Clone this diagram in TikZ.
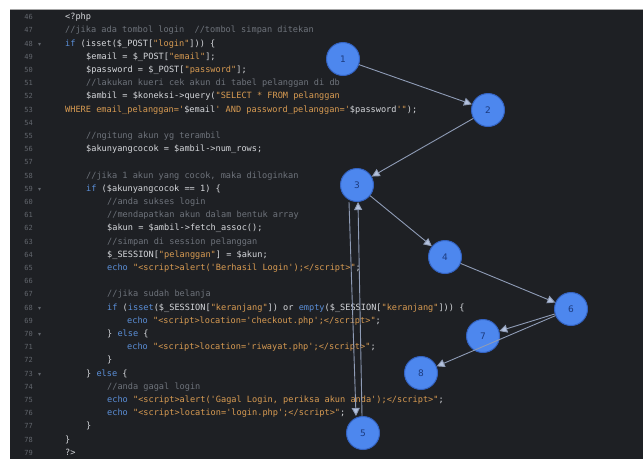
\documentclass[tikz,border=0pt]{standalone}
\usepackage{fontspec}
\setmonofont{DejaVu Sans Mono}
\newfontfamily\numfont{DejaVu Sans}
\usetikzlibrary{arrows.meta}
\definecolor{codebg}{HTML}{1E2024}
\definecolor{txt}{HTML}{D6D8DC}
\definecolor{cmt}{HTML}{6E737B}
\definecolor{strc}{HTML}{D89B52}
\definecolor{kwc}{HTML}{5B8FD8}
\definecolor{lnum}{HTML}{62666D}
\definecolor{circfill}{HTML}{4D87EE}
\definecolor{circdraw}{HTML}{3463C2}
\definecolor{circtxt}{HTML}{1C3B7E}
\definecolor{arrc}{HTML}{8F9CB6}
\definecolor{arrhead}{HTML}{B4C2DE}
\newcommand\ckw[1]{\textcolor{kwc}{#1}}
\newcommand\cstr[1]{\textcolor{strc}{#1}}
\newcommand\ccmt[1]{\textcolor{cmt}{#1}}
\tikzset{
  codeline/.style={anchor=mid west, inner sep=0pt, text=txt, font=\ttfamily\fontsize{8.6}{10}\selectfont},
  lnlabel/.style={anchor=mid east, inner sep=0pt, text=lnum, font=\ttfamily\fontsize{7}{8}\selectfont},
  foldmark/.style={anchor=mid west, inner sep=0pt, text=lnum, font=\numfont\fontsize{6}{7}\selectfont},
  stepcirc/.style={circle, minimum size=33pt, inner sep=0pt, fill=circfill, draw=circdraw, line width=1pt, text=circtxt, font=\numfont\fontsize{9}{10}\selectfont},
  flowarr/.style={draw=arrc, line width=0.9pt, -{Triangle[length=8pt,width=8pt,fill=arrhead]}}
}
\begin{document}
\begin{tikzpicture}[x=1pt,y=-1pt]
\useasboundingbox (0,0) rectangle (643,459);
\fill[white] (0,0) rectangle (643,459);
\fill[codebg] (10,9) rectangle (643,459);
\draw[gray!70, line width=1pt] (10,9.5) -- (643,9.5);
% line numbers
\foreach \n in {46,...,79} {
  \node[lnlabel] (n\n) at (33, {17.5+(\n-46)*13.2}) {\n};
}
\foreach \n in {48,59,68,70,73} {
  \node[foldmark] (f\n) at (38, {17.5+(\n-46)*13.2}) {▾};
}
% code
\node[codeline] (l46) at (65, {17.5+0*13.2}) {<?php};
\node[codeline] (l47) at (65, {17.5+1*13.2}) {\ccmt{//jika ada tombol login\ \ //tombol simpan ditekan}};
\node[codeline] (l48) at (65, {17.5+2*13.2}) {\ckw{if} (isset(\$\_POST[\cstr{"login"}])) \{};
\node[codeline] (l49) at (86, {17.5+3*13.2}) {\$email = \$\_POST[\cstr{"email"}];};
\node[codeline] (l50) at (86, {17.5+4*13.2}) {\$password = \$\_POST[\cstr{"password"}];};
\node[codeline] (l51) at (86, {17.5+5*13.2}) {\ccmt{//lakukan kueri cek akun di tabel pelanggan di db}};
\node[codeline] (l52) at (86, {17.5+6*13.2}) {\$ambil = \$koneksi->query(\cstr{"SELECT * FROM pelanggan}};
\node[codeline] (l53) at (65, {17.5+7*13.2}) {\cstr{WHERE email\_pelanggan='}\$email\cstr{' AND password\_pelanggan='}\$password\cstr{'"});};
\node[codeline] (l55) at (86, {17.5+9*13.2}) {\ccmt{//ngitung akun yg terambil}};
\node[codeline] (l56) at (86, {17.5+10*13.2}) {\$akunyangcocok = \$ambil->num\_rows;};
\node[codeline] (l58) at (86, {17.5+12*13.2}) {\ccmt{//jika 1 akun yang cocok, maka diloginkan}};
\node[codeline] (l59) at (86, {17.5+13*13.2}) {\ckw{if} (\$akunyangcocok == 1) \{};
\node[codeline] (l60) at (107, {17.5+14*13.2}) {\ccmt{//anda sukses login}};
\node[codeline] (l61) at (107, {17.5+15*13.2}) {\ccmt{//mendapatkan akun dalam bentuk array}};
\node[codeline] (l62) at (107, {17.5+16*13.2}) {\$akun = \$ambil->fetch\_assoc();};
\node[codeline] (l63) at (107, {17.5+17*13.2}) {\ccmt{//simpan di session pelanggan}};
\node[codeline] (l64) at (107, {17.5+18*13.2}) {\$\_SESSION[\cstr{"pelanggan"}] = \$akun;};
\node[codeline] (l65) at (107, {17.5+19*13.2}) {\ckw{echo} \cstr{"<script>alert('Berhasil Login');</script>"};};
\node[codeline] (l67) at (107, {17.5+21*13.2}) {\ccmt{//jika sudah belanja}};
\node[codeline] (l68) at (107, {17.5+22*13.2}) {\ckw{if} (\ckw{isset}(\$\_SESSION[\cstr{"keranjang"}]) or \ckw{empty}(\$\_SESSION[\cstr{"keranjang"}])) \{};
\node[codeline] (l69) at (127, {17.5+23*13.2}) {\ckw{echo} \cstr{"<script>location='checkout.php';</script>"};};
\node[codeline] (l70) at (107, {17.5+24*13.2}) {\} \ckw{else} \{};
\node[codeline] (l71) at (127, {17.5+25*13.2}) {\ckw{echo} \cstr{"<script>location='riwayat.php';</script>"};};
\node[codeline] (l72) at (107, {17.5+26*13.2}) {\}};
\node[codeline] (l73) at (86, {17.5+27*13.2}) {\} \ckw{else} \{};
\node[codeline] (l74) at (107, {17.5+28*13.2}) {\ccmt{//anda gagal login}};
\node[codeline] (l75) at (107, {17.5+29*13.2}) {\ckw{echo} \cstr{"<script>alert('Gagal Login, periksa akun anda');</script>"};};
\node[codeline] (l76) at (107, {17.5+30*13.2}) {\ckw{echo} \cstr{"<script>location='login.php';</script>"};};
\node[codeline] (l77) at (86, {17.5+31*13.2}) {\}};
\node[codeline] (l78) at (65, {17.5+32*13.2}) {\}};
\node[codeline] (l79) at (65, {17.5+33*13.2}) {?>};
% circles
\node[stepcirc] (c1) at (343,59) {1};
\node[stepcirc] (c2) at (488,110) {2};
\node[stepcirc] (c3) at (357,185) {3};
\node[stepcirc] (c4) at (445,257) {4};
\node[stepcirc] (c5) at (363,433) {5};
\node[stepcirc] (c6) at (571,309) {6};
\node[stepcirc] (c7) at (483,336) {7};
\node[stepcirc] (c8) at (421,373) {8};
% arrows
\draw[flowarr] (c1) -- (c2);
\draw[flowarr] (c2) -- (c3);
\draw[flowarr] (c3) -- (c4);
\draw[flowarr] (c4) -- (c6);
\draw[flowarr] (c6) -- (c7);
\draw[flowarr] (c6) -- (c8);
\draw[flowarr] ([xshift=-8pt]c3.south) -- ([xshift=-7pt]c5.north);
\draw[flowarr] ([xshift=-1pt]c5.north) -- ([xshift=1pt]c3.south);
\end{tikzpicture}
\end{document}
